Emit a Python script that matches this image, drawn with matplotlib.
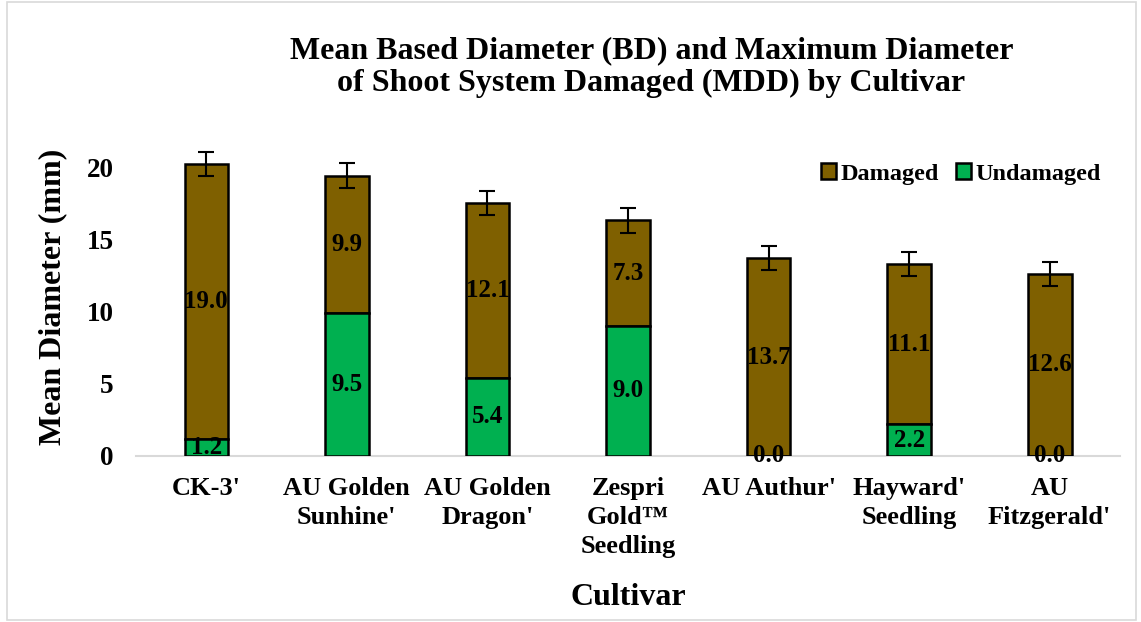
import matplotlib
matplotlib.use("Agg")
import matplotlib.pyplot as plt
from matplotlib.patches import Rectangle
import numpy as np

plt.rcParams['font.family'] = ['Liberation Serif', 'DejaVu Serif']
plt.rcParams['font.weight'] = 'bold'

cultivars = ["CK-3'", "AU Golden\nSunhine'", "AU Golden\nDragon'", "Zespri\nGold\u2122\nSeedling",
             "AU Authur'", "Hayward'\nSeedling", "AU\nFitzgerald'"]
undamaged = [1.2, 9.9, 5.4, 9.0, 0.0, 2.2, 0.0]
damaged = [19.0, 9.5, 12.1, 7.3, 13.7, 11.1, 12.6]
undamaged_labels = ["1.2", "9.5", "5.4", "9.0", "0.0", "2.2", "0.0"]
damaged_labels = ["19.0", "9.9", "12.1", "7.3", "13.7", "11.1", "12.6"]
errors = [0.85, 0.85, 0.85, 0.85, 0.85, 0.85, 0.85]
yticks = [0, 5, 10, 15, 20]

brown = "#7F6000"
green = "#00B050"

fig = plt.figure(figsize=(11.41, 6.22), dpi=100)
ax = fig.add_axes([0.1192, 0.2669, 0.8624, 0.511])

x = np.arange(len(cultivars))
w = 0.31
und = np.array(undamaged)
dam = np.array(damaged)
ax.bar(x, dam, w, bottom=und, color=brown, edgecolor='black', linewidth=1.8, label='Damaged', zorder=3)
ax.bar(x, und, w, color=green, edgecolor='black', linewidth=1.8, label='Undamaged', zorder=3)
ax.errorbar(x, und + dam, yerr=errors, fmt='none', ecolor='black', elinewidth=1.5, capsize=6, capthick=1.5, zorder=4)

for i in range(len(x)):
    ax.text(x[i], und[i] / 2, undamaged_labels[i], ha='center', va='center', fontsize=18, fontweight='bold', zorder=5)
    ax.text(x[i], und[i] + dam[i] / 2, damaged_labels[i], ha='center', va='center', fontsize=18, fontweight='bold', zorder=5)

ax.set_xlim(-0.5, len(x) - 0.5)
ax.set_ylim(0, 22)
ax.set_yticks(yticks)
ax.set_yticklabels([str(t) for t in yticks], fontsize=19.5, fontweight='bold')
ax.set_xticks(x)
ax.set_xticklabels(cultivars, fontsize=19, fontweight='bold', linespacing=1.34)
ax.tick_params(axis='both', length=0)
ax.tick_params(axis='x', pad=15)
ax.tick_params(axis='y', pad=16)
for s in ['top', 'right', 'left']:
    ax.spines[s].set_visible(False)
ax.spines['bottom'].set_color('#D9D9D9')
ax.spines['bottom'].set_linewidth(1.5)

ax.set_ylabel("Mean Diameter (mm)", fontsize=23, fontweight='bold', labelpad=14)
ax.set_xlabel("Cultivar", fontsize=23, fontweight='bold', labelpad=18)

fig.text(0.571, 0.892, "Mean Based Diameter (BD) and Maximum Diameter\nof Shoot System Damaged (MDD) by Cultivar",
         ha='center', va='center', fontsize=23, fontweight='bold', linespacing=1.2)

leg = ax.legend(loc='center right', bbox_to_anchor=(1.003, 0.887), ncol=2, frameon=False,
                handlelength=0.6, handleheight=0.6, handletextpad=0.2, columnspacing=0.7,
                prop={'weight': 'bold', 'size': 17.5})

fig.patches.append(Rectangle((0.006, 0.004), 0.99, 0.992, transform=fig.transFigure,
                             fill=False, edgecolor='#D9D9D9', linewidth=1.2))

fig.savefig("out.png", dpi=100)
